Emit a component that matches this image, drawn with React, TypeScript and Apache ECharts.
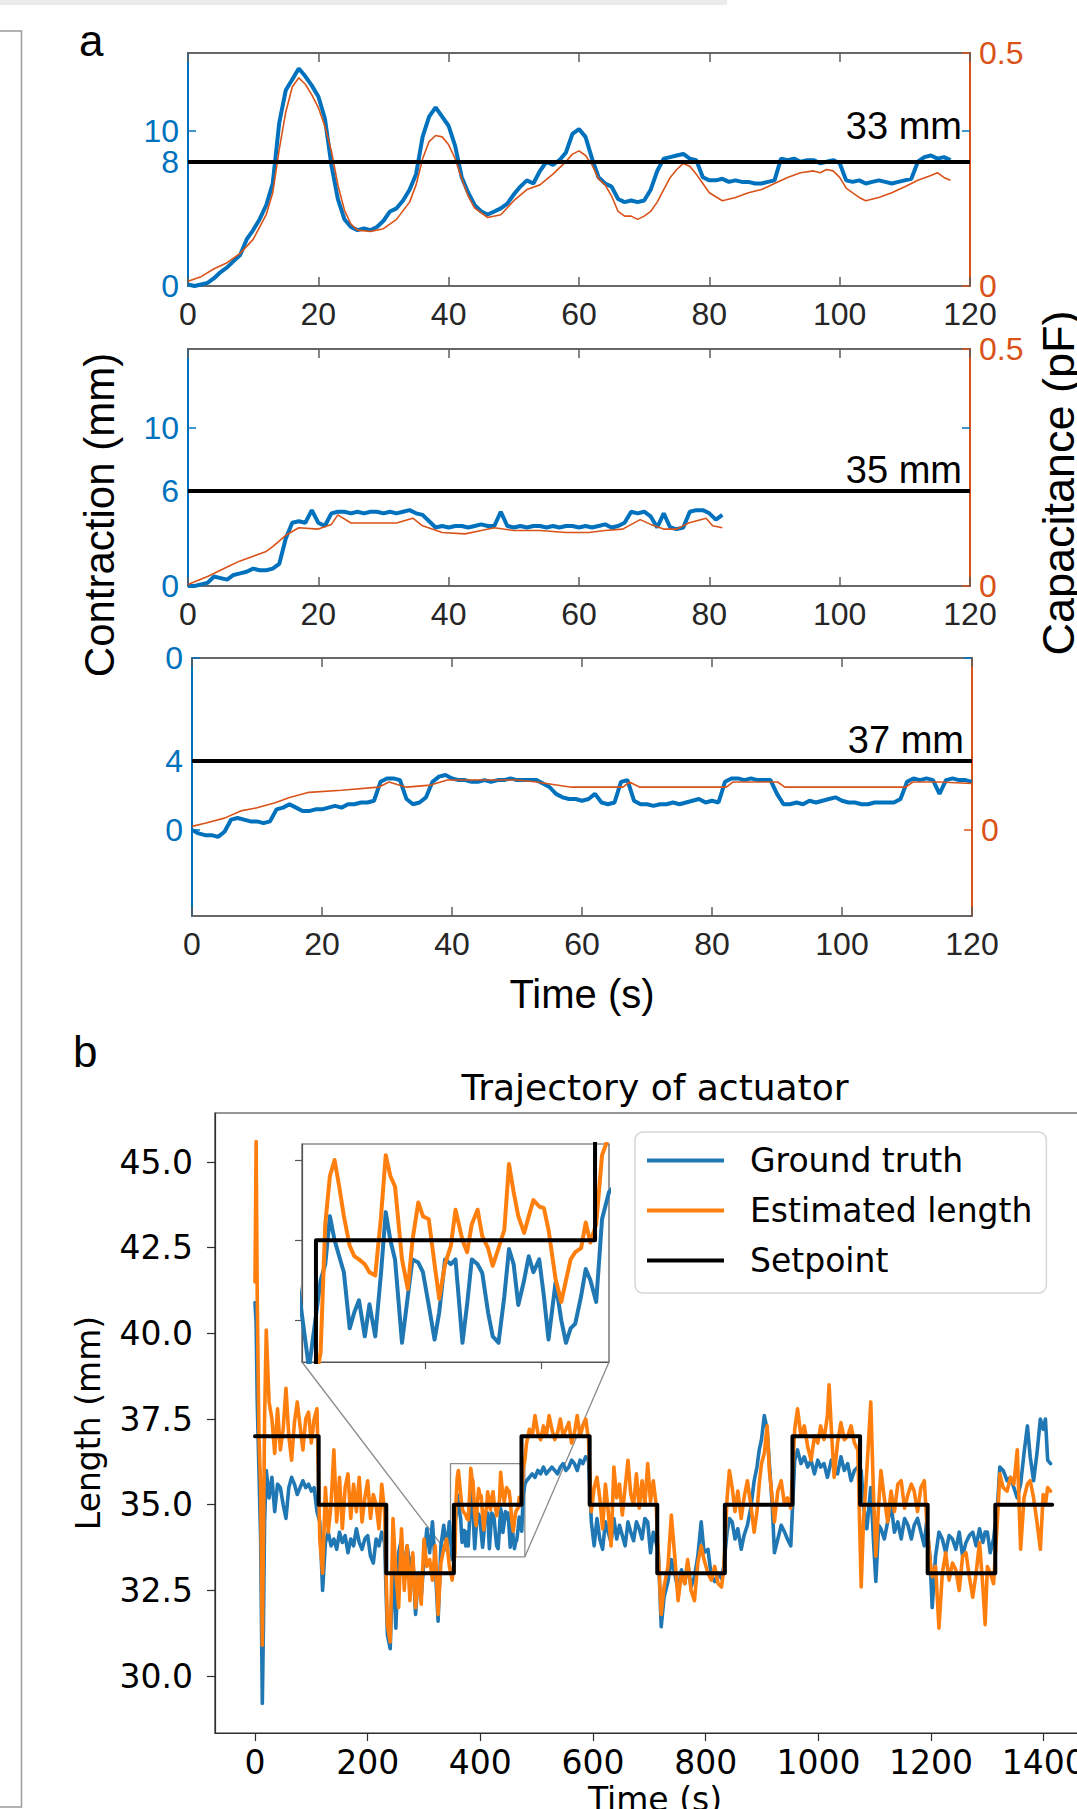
import React, { useEffect, useRef } from "react";
import * as echarts from "echarts";

// ---------------- Panel a : contraction (mm) sampled every 1 s from t = 0 ----------------
const a1Contraction = [
  0.1, 0.0, 0.1, 0.2, 0.5, 0.9, 1.2, 1.6, 2.0, 3.0,
  3.6, 4.3, 5.2, 6.6, 10.5, 12.6, 13.3, 14.0, 13.5, 12.9,
  12.2, 10.8, 7.8, 5.6, 4.3, 3.8, 3.6, 3.7, 3.6, 3.8,
  4.2, 4.8, 5.0, 5.5, 6.2, 7.2, 9.6, 10.9, 11.5, 10.9,
  10.3, 9.0, 7.0, 6.0, 5.2, 4.8, 4.6, 4.8, 5.0, 5.3,
  5.9, 6.4, 6.8, 6.6, 7.4, 8.0, 7.8, 8.1, 8.6, 9.8,
  10.1, 9.6, 8.2, 7.0, 6.6, 6.4, 5.6, 5.4, 5.5, 5.4,
  5.5, 6.2, 7.4, 8.2, 8.3, 8.4, 8.5, 8.2, 8.1, 7.0,
  6.8, 6.8, 6.9, 6.7, 6.8, 6.7, 6.7, 6.6, 6.6, 6.7,
  6.8, 8.2, 8.1, 8.2, 8.0, 8.1, 8.1, 7.9, 8.0, 8.1,
  7.9, 6.8, 6.7, 6.8, 6.6, 6.7, 6.8, 6.7, 6.6, 6.7,
  6.8, 6.9, 8.0, 8.3, 8.4, 8.2, 8.3, 8.1,
];
const a1CapTime = [
  0, 2, 4, 6, 8, 10, 12, 13, 14, 15, 16, 17, 18, 19, 20, 21, 22, 23, 24, 25, 26, 28, 30, 32, 34,
  35, 36, 37, 38, 39, 40, 41, 42, 43, 44, 46, 48, 50, 52, 54, 56, 58, 59, 60, 61, 62, 63, 64, 65,
  66, 67, 68, 69, 70, 71, 72, 73, 74, 75, 76, 77, 78, 79, 80, 82, 84, 86, 88, 90, 92, 94, 96, 97,
  98, 99, 100, 101, 102, 103, 104, 106, 108, 110, 112, 114, 115, 116, 117,
];
const a1Cap = [
  0.010, 0.020, 0.037, 0.050, 0.070, 0.100, 0.153, 0.200, 0.293, 0.373, 0.427, 0.447, 0.433, 0.410,
  0.383, 0.343, 0.290, 0.217, 0.163, 0.133, 0.120, 0.117, 0.123, 0.143, 0.180, 0.217, 0.273, 0.310,
  0.323, 0.320, 0.303, 0.273, 0.230, 0.193, 0.167, 0.147, 0.153, 0.183, 0.207, 0.217, 0.240, 0.267,
  0.283, 0.290, 0.280, 0.260, 0.230, 0.217, 0.193, 0.160, 0.150, 0.150, 0.143, 0.150, 0.160, 0.180,
  0.207, 0.233, 0.250, 0.263, 0.257, 0.240, 0.220, 0.200, 0.183, 0.190, 0.200, 0.207, 0.220, 0.233,
  0.243, 0.247, 0.243, 0.250, 0.247, 0.233, 0.210, 0.200, 0.190, 0.183, 0.190, 0.200, 0.213, 0.227,
  0.237, 0.243, 0.233, 0.227,
];

const a2Contraction = [
  0.0, 0.0, 0.1, 0.2, 0.6, 0.5, 0.4, 0.7, 0.8, 0.9,
  1.1, 1.0, 1.0, 1.1, 1.4, 3.0, 4.0, 4.1, 4.0, 4.8,
  4.0, 3.8, 4.6, 4.7, 4.7, 4.6, 4.7, 4.6, 4.7, 4.7,
  4.6, 4.7, 4.6, 4.7, 4.8, 4.6, 4.5, 4.1, 3.7, 3.8,
  3.7, 3.8, 3.8, 3.7, 3.8, 3.9, 3.8, 3.8, 4.7, 3.8,
  3.7, 3.8, 3.7, 3.8, 3.8, 3.7, 3.8, 3.7, 3.8, 3.8,
  3.7, 3.8, 3.7, 3.8, 3.9, 3.7, 3.8, 4.0, 4.7, 4.6,
  4.7, 4.4, 3.7, 4.6, 3.7, 3.6, 3.7, 4.7, 4.8, 4.8,
  4.6, 4.2, 4.5,
];
const a2CapTime = [
  0, 3, 6, 8, 10, 12, 13, 15, 17, 20, 22, 23, 25, 29, 32, 34.5, 36, 39, 42.5, 45, 47, 50, 54, 58,
  61.5, 64, 66.7, 69.4, 71, 73, 75, 76.8, 79.5, 80.5, 82,
];
const a2Cap = [
  0.003, 0.020, 0.040, 0.053, 0.063, 0.073, 0.083, 0.107, 0.123, 0.120, 0.130, 0.150, 0.133, 0.133,
  0.133, 0.143, 0.127, 0.113, 0.110, 0.117, 0.123, 0.117, 0.117, 0.113, 0.113, 0.117, 0.120, 0.140,
  0.130, 0.120, 0.120, 0.133, 0.143, 0.127, 0.123,
];

const a3Contraction = [
  0.0, -0.2, -0.3, -0.3, -0.4, -0.1, 0.6, 0.7, 0.6, 0.5,
  0.5, 0.4, 0.5, 1.2, 1.3, 1.5, 1.3, 1.1, 1.1, 1.2,
  1.2, 1.3, 1.4, 1.3, 1.5, 1.5, 1.6, 1.6, 1.7, 2.8,
  3.0, 3.0, 2.9, 1.8, 1.5, 1.6, 1.9, 2.8, 3.1, 3.2,
  3.0, 2.9, 2.9, 2.8, 2.8, 2.9, 2.8, 2.9, 2.9, 3.0,
  2.9, 2.9, 2.9, 2.9, 2.7, 2.5, 2.1, 1.9, 1.8, 1.8,
  1.7, 1.8, 2.1, 1.6, 1.5, 1.6, 2.8, 2.9, 1.7, 1.5,
  1.5, 1.4, 1.5, 1.5, 1.6, 1.5, 1.6, 1.7, 1.8, 1.6,
  1.7, 1.6, 2.8, 3.0, 3.0, 2.9, 3.0, 2.9, 2.9, 2.9,
  2.1, 1.5, 1.5, 1.6, 1.5, 1.7, 1.6, 1.7, 1.8, 1.9,
  1.7, 1.6, 1.6, 1.5, 1.5, 1.6, 1.6, 1.6, 1.6, 1.8,
  2.8, 3.0, 2.9, 3.0, 2.9, 2.1, 2.9, 3.0, 2.9, 2.9,
  2.8,
];
const a3CapTime = [
  0, 2, 5, 7.5, 10, 12.8, 15, 18, 23, 28.7, 30.3, 33, 36.7, 39.3, 45, 50, 53, 58.4, 66.3, 67.3,
  68.9, 75, 82.2, 83.2, 90.1, 91.2, 100, 109.8, 110.9, 115, 120,
];
const a3Cap = [
  0.007, 0.013, 0.023, 0.037, 0.043, 0.053, 0.063, 0.073, 0.077, 0.083, 0.093, 0.083, 0.087, 0.097,
  0.097, 0.097, 0.093, 0.083, 0.083, 0.093, 0.083, 0.083, 0.083, 0.093, 0.093, 0.083, 0.083, 0.083,
  0.093, 0.093, 0.090,
];

const aSetpoints = [8, 6, 4]; // contraction target (mm)
const aSetLabels = ["33 mm", "35 mm", "37 mm"];

// ---------------- Panel b : trajectory of actuator ----------------
const bTime = [
  0, 2, 4, 7, 10, 13, 15, 17, 20, 25, 30, 35, 40, 45, 50, 55, 60, 65, 70, 75, 80, 85, 90, 95, 100, 105, 110,
  115, 120, 125, 130, 135, 140, 145, 150, 155, 160, 165, 170, 175, 180, 185, 190, 195, 200, 205, 210, 215, 220, 225, 230,
  235, 240, 245, 250, 255, 260, 265, 270, 275, 280, 285, 290, 295, 300, 305, 310, 315, 320, 325, 330, 335, 340, 345, 350,
  355, 357, 359, 361, 363, 365, 367.5, 369.5, 371.5, 374, 376, 378.5, 381, 383, 385, 387, 390, 392.5, 394.5, 397,
  399, 401.5, 404, 406, 408.5, 411, 413, 416, 418, 420, 422.5, 424.5, 427, 429, 431.5, 434, 436, 438, 440, 442.5,
  444.5, 446.5, 449, 451, 453, 456, 458.5, 460.5, 462.5, 464.5, 467, 469, 471, 473.5, 476, 479,
  482, 487, 492, 497, 502, 507, 512, 517, 522, 527, 532, 537, 542, 547, 552, 557, 562, 567, 572, 577, 582, 587, 592,
  597, 602, 607, 612, 617, 622, 627, 632, 637, 642, 647, 652, 657, 662, 667, 672, 677, 682, 687, 692, 697, 702, 707, 712,
  716, 721, 726, 733, 739, 745, 751, 757, 763, 768, 774, 780, 786, 792, 797, 804, 810, 816, 822, 828, 832,
  838, 842, 847, 852, 857, 863, 868, 874, 880, 886, 891, 895, 899, 904, 909, 913, 918, 922, 928, 934, 940, 945, 951,
  958, 963, 969, 975, 981, 987, 993, 999, 1004, 1010, 1016, 1019, 1023, 1028, 1034, 1040, 1046, 1052, 1058, 1064, 1070,
  1076, 1080, 1086, 1093, 1098, 1102, 1107, 1111, 1117, 1123, 1129, 1135, 1141, 1147, 1153, 1159, 1165, 1170, 1176, 1182, 1188, 1192,
  1198, 1202, 1208, 1214, 1220, 1226, 1232, 1238, 1244, 1250, 1256, 1262, 1268, 1274, 1280, 1286, 1292, 1296, 1300, 1305, 1311,
  1318, 1322, 1328, 1335, 1341, 1347, 1353, 1359, 1365, 1371, 1376, 1382, 1388, 1394, 1399, 1403, 1407, 1412,
];
const bTruth = [
  40.9, 40.3, 38.0, 36.0, 34.0, 29.2, 31.5, 34.5, 36.0, 35.2, 35.8, 34.8, 35.6, 35.5, 35.0, 34.6, 35.5, 35.8, 35.6, 35.3, 35.5, 35.7, 35.5, 35.6, 35.4, 35.5, 34.8,
  34.5, 32.5, 33.9, 34.2, 33.8, 34.0, 33.7, 34.2, 33.9, 34.1, 33.6, 34.0, 33.8, 34.3, 33.9, 33.7, 34.0, 34.1, 33.5, 33.3, 34.0, 33.8, 34.2, 33.9,
  31.2, 30.8, 33.5, 31.4, 33.6, 34.0, 33.0, 33.8, 33.2, 33.5, 31.8, 33.0, 32.3, 33.4, 34.3, 33.6, 34.5, 33.2, 31.6, 33.8, 34.4, 33.7, 34.5, 33.4,
  34.5, 34.7, 35.3, 35.0, 34.8, 34.6, 33.9, 34.1, 34.25, 33.8, 34.2, 33.8, 34.6, 35.35, 35.0, 34.76, 33.72, 34.3, 34.76, 34.72,
  34.6, 34.19, 33.76, 34.1, 34.76, 34.7, 34.76, 33.72, 34.2, 34.76, 34.7, 34.59, 34.1, 33.8, 33.72, 34.3, 34.89, 34.7, 34.19, 34.5,
  34.8, 34.6, 34.76, 34.3, 33.76, 34.47, 34.0, 33.72, 33.9, 33.96, 34.3, 34.64, 34.5, 34.23, 35.26, 35.6,
  35.7, 35.8, 35.9, 35.8, 36.0, 35.9, 36.1, 35.9, 36.0, 36.1, 36.0, 35.9, 36.1, 36.2, 36.0, 36.1, 36.3, 36.2, 36.0, 36.3, 36.2, 36.4, 36.3,
  34.5, 33.8, 34.6, 34.0, 33.7, 34.5, 34.2, 33.9, 34.6, 34.0, 34.4, 34.1, 33.8, 34.5, 34.2, 33.95, 34.5, 34.3, 34.0, 34.6, 34.5, 33.6, 34.2, 33.9,
  33.6, 31.44, 32.3, 32.76, 33.4, 33.0, 32.5, 33.1, 32.7, 33.3, 32.6, 32.9, 33.5, 34.5, 33.6, 33.7, 32.9, 32.76, 33.0, 32.85, 33.2,
  34.2, 34.6, 34.5, 34.0, 34.3, 33.7, 34.1, 34.4, 34.9, 35.7, 36.1, 36.6, 36.9, 37.6, 37.2, 36.2, 35.0, 33.6, 34.0, 34.4, 34.2, 34.0, 33.8,
  36.3, 36.6, 36.2, 36.4, 36.1, 36.3, 35.9, 36.3, 36.1, 36.2, 35.8, 36.0, 36.3, 36.1, 35.9, 36.4, 36.0, 36.2, 35.7, 36.0, 36.1,
  36.0, 35.0, 34.3, 35.5, 33.9, 32.76, 34.4, 34.3, 34.0, 34.5, 35.0, 34.2, 34.5, 34.0, 34.6, 34.4, 34.0, 34.4, 34.6, 34.2, 33.8, 34.5,
  33.5, 32.0, 33.5, 34.2, 34.0, 33.6, 34.1, 34.0, 33.7, 34.2, 33.5, 33.9, 34.1, 34.2, 33.8, 34.3, 33.9, 34.2, 34.2, 33.6, 34.0,
  35.0, 36.1, 36.0, 35.7, 35.8, 35.5, 35.2, 35.6, 36.5, 37.3, 36.4, 35.7, 36.5, 37.5, 37.2, 37.5, 36.3, 36.2,
];
const bEstimated = [
  41.5, 45.6, 41.0, 37.0, 35.5, 30.9, 34.0, 37.5, 40.1, 38.0, 37.5, 36.5, 37.8, 36.6, 37.2, 38.4, 37.0, 36.3, 37.4, 38.0, 37.3, 36.6, 37.5, 37.7, 36.8, 37.5, 37.8,
  34.0, 33.0, 35.5, 34.2, 35.0, 36.6, 34.5, 35.8, 34.3, 35.5, 35.9, 34.6, 35.6, 34.8, 35.8, 34.5, 35.2, 35.7, 34.6, 35.3, 35.0, 34.3, 35.6, 34.8,
  31.5, 31.0, 34.6, 33.0, 32.0, 34.3, 32.5, 33.8, 32.2, 33.6, 32.0, 33.0, 32.1, 34.0, 33.2, 33.4, 32.8, 33.8, 31.8, 33.3, 33.7, 34.0, 33.2, 32.8,
  33.6, 35.2, 35.8, 36.0, 35.67, 35.3, 34.93, 34.8, 34.76, 34.7, 34.6, 34.56, 35.3, 36.06, 35.8, 35.67, 34.76, 34.39, 35.0, 35.47,
  35.3, 35.26, 34.7, 34.27, 34.7, 34.93, 35.38, 35.0, 34.85, 35.2, 35.38, 35.05, 34.9, 34.68, 34.9, 35.13, 35.95, 35.6, 35.3, 35.09,
  35.3, 35.5, 35.42, 35.4, 35.13, 34.52, 34.23, 34.5, 34.76, 34.85, 34.9, 35.22, 34.97, 35.2, 36.06, 36.3,
  36.8, 37.2, 37.0, 37.6, 37.1, 36.9, 37.3, 37.0, 37.6, 37.2, 36.9, 37.1, 37.5, 37.0, 37.2, 37.4, 36.8, 37.1, 37.6, 37.0, 37.3, 37.5, 36.9,
  34.8, 35.5, 35.8, 35.2, 34.3, 35.6, 34.8, 33.8, 36.1, 35.2, 35.6, 34.7, 35.5, 36.3, 35.3, 35.0, 35.9, 34.9, 35.7, 35.0, 36.2, 35.1, 35.7, 35.0,
  33.5, 31.8, 32.6, 33.2, 34.7, 33.5, 32.2, 33.0, 32.7, 33.4, 32.5, 32.2, 33.3, 33.8, 33.4, 33.0, 32.8, 33.2, 32.7, 32.6, 33.1,
  35.2, 36.0, 35.5, 34.8, 35.4, 34.6, 35.2, 35.7, 35.0, 34.2, 34.8, 35.6, 36.2, 36.5, 37.3, 36.0, 35.2, 34.5, 35.4, 35.7, 35.0, 35.2, 34.9,
  37.2, 37.8, 37.0, 37.3, 36.7, 36.3, 37.0, 36.8, 37.3, 36.9, 37.6, 38.5, 37.2, 35.8, 36.8, 37.4, 36.9, 37.0, 37.3, 36.8, 36.6,
  32.6, 34.5, 36.0, 38.0, 35.2, 33.5, 35.0, 36.0, 35.2, 34.5, 35.4, 34.8, 35.6, 35.7, 34.9, 35.3, 35.6, 35.4, 34.8, 35.5, 35.7, 34.6,
  33.4, 32.9, 33.2, 31.4, 33.0, 33.6, 32.8, 33.3, 33.1, 32.5, 33.5, 33.6, 32.9, 32.3, 33.0, 33.9, 32.6, 31.5, 33.2, 33.0, 32.7,
  34.6, 35.9, 35.5, 35.4, 35.8, 35.6, 36.6, 33.7, 35.2, 35.6, 35.7, 35.2, 34.5, 33.7, 35.3, 35.0, 35.5, 35.4,
];
const setpointTime = [0, 113, 233, 353, 473, 594, 714, 834, 954, 1074, 1194, 1314, 1415];
const setpointLength = [37, 35, 33, 35, 37, 35, 33, 35, 37, 35, 33, 35, 35];
const bXTicks = [0, 200, 400, 600, 800, 1000, 1200, 1400];
const bYTicks = [30, 32.5, 35, 37.5, 40, 42.5, 45];
const insetX = [347, 479];
const insetY = [33.48, 36.2];
const insetXTicks = [400, 450];
const insetYTicks = [34, 35, 36];

// ---------------- styling ----------------
const W = 1077;
const H = 1809;
const AF = "Liberation Sans";
const BF = "DejaVu Sans";
const BLUE = "#0072BD";
const ORANGE = "#D95319";
const SPINE = "#5e5e5e";
const TXT = "#262626";
const MPL_BLUE = "#1f77b4";
const MPL_ORANGE = "#ff7f0e";

const zip = (xs: number[], ys: number[]) => xs.map((x, i) => [x, ys[i]]);
const perSecond = (ys: number[]) => ys.map((y, i) => [i, y]);

function aXAxes(gridIndex: number, name?: string) {
  const common = {
    type: "value",
    gridIndex,
    min: 0,
    max: 120,
    interval: 20,
    splitLine: { show: false },
    axisLine: { show: true, onZero: false, lineStyle: { color: SPINE, width: 1.5 } },
    axisTick: { show: true, inside: true, length: 9, lineStyle: { color: SPINE, width: 1.5 } },
  };
  return [
    {
      ...common,
      position: "bottom",
      axisLabel: {
        show: true,
        margin: 12,
        fontSize: 32,
        fontFamily: AF,
        color: TXT,
        showMinLabel: true,
        showMaxLabel: true,
        hideOverlap: false,
      },
      ...(name
        ? {
            name,
            nameLocation: "middle",
            nameGap: 58,
            nameTextStyle: { fontSize: 40, fontFamily: AF, color: "#000" },
          }
        : {}),
    },
    { ...common, position: "top", axisLabel: { show: false } },
  ];
}

function aYAxes(
  gridIndex: number,
  lMin: number,
  lMax: number,
  lTicks: number[],
  lFmt: (v: number) => string,
  rMin: number,
  rMax: number,
  rTicks: number[]
) {
  return [
    {
      type: "value",
      gridIndex,
      position: "left",
      min: lMin,
      max: lMax,
      splitLine: { show: false },
      axisLine: { show: true, onZero: false, lineStyle: { color: BLUE, width: 2 } },
      axisTick: { show: true, inside: true, length: 8, customValues: lTicks, lineStyle: { color: BLUE, width: 1.5 } },
      axisLabel: {
        show: true,
        customValues: lTicks,
        formatter: lFmt,
        margin: 9,
        fontSize: 32,
        fontFamily: AF,
        color: BLUE,
        hideOverlap: false,
        showMinLabel: true,
        showMaxLabel: true,
      },
    },
    {
      type: "value",
      gridIndex,
      position: "right",
      min: rMin,
      max: rMax,
      splitLine: { show: false },
      axisLine: { show: true, onZero: false, lineStyle: { color: ORANGE, width: 2 } },
      axisTick: { show: true, inside: true, length: 8, customValues: rTicks, lineStyle: { color: ORANGE, width: 1.5 } },
      axisLabel: {
        show: true,
        customValues: rTicks,
        formatter: (v: number) => (v === 0 ? "0" : String(v)),
        margin: 9,
        fontSize: 32,
        fontFamily: AF,
        color: ORANGE,
        hideOverlap: false,
        showMinLabel: true,
        showMaxLabel: true,
      },
    },
  ];
}

// extra axis carrying only a few (blue) ticks / labels, sharing a grid with the main ones
function extraY(gridIndex: number, position: string, min: number, max: number, ticks: number[], showLabel: boolean) {
  return {
    type: "value",
    gridIndex,
    position,
    min,
    max,
    splitLine: { show: false },
    axisLine: { show: false, onZero: false },
    axisTick: { show: true, inside: true, length: 8, customValues: ticks, lineStyle: { color: BLUE, width: 1.5 } },
    axisLabel: showLabel
      ? { show: true, customValues: ticks, margin: 9, fontSize: 32, fontFamily: AF, color: BLUE, showMinLabel: true, showMaxLabel: true }
      : { show: false },
  };
}

function aSeries(
  idx: number,
  contraction: number[],
  capTime: number[],
  cap: number[],
  setpoint: number,
  label: string,
  labelDy: number
) {
  return [
    {
      name: "Contraction " + label,
      type: "line",
      xAxisIndex: idx * 2,
      yAxisIndex: idx * 2,
      data: perSecond(contraction),
      showSymbol: false,
      symbol: "none",
      lineStyle: { color: BLUE, width: 4 },
      z: 2,
      silent: true,
      markLine: {
        silent: true,
        symbol: "none",
        data: [{ yAxis: setpoint }],
        lineStyle: { color: "#000", width: 4, type: "solid" },
        label: {
          show: true,
          position: "insideEndTop",
          formatter: label,
          distance: [8, labelDy],
          fontSize: 38,
          fontFamily: AF,
          color: "#000",
        },
      },
    },
    {
      name: "Capacitance " + label,
      type: "line",
      xAxisIndex: idx * 2,
      yAxisIndex: idx * 2 + 1,
      data: zip(capTime, cap),
      showSymbol: false,
      symbol: "none",
      lineStyle: { color: ORANGE, width: 1.6 },
      z: 3,
      silent: true,
    },
  ];
}

function staticGraphic() {
  return [
    { id: "band", type: "rect", shape: { x: 0, y: 0, width: 727, height: 5 }, style: { fill: "#ebebeb" }, silent: true },
    {
      id: "frame",
      type: "polyline",
      shape: { points: [[0, 31], [21.5, 31], [21.5, 1807], [0, 1807]] },
      style: { stroke: "#9a9a9a", lineWidth: 1.5, fill: "none" },
      silent: true,
    },
    {
      id: "labA",
      type: "text",
      x: 79,
      y: 40,
      style: { text: "a", fontSize: 44, fontFamily: AF, fill: "#000", align: "left", verticalAlign: "middle" },
    },
    {
      id: "labB",
      type: "text",
      x: 73,
      y: 1051,
      style: { text: "b", fontSize: 44, fontFamily: AF, fill: "#000", align: "left", verticalAlign: "middle" },
    },
    {
      id: "contraction",
      type: "text",
      x: 99,
      y: 515,
      rotation: Math.PI / 2,
      style: { text: "Contraction (mm)", fontSize: 42, fontFamily: AF, fill: "#000", align: "center", verticalAlign: "middle" },
    },
    {
      id: "capacitance",
      type: "text",
      x: 1058,
      y: 483,
      rotation: Math.PI / 2,
      style: { text: "Capacitance (pF)", fontSize: 45, fontFamily: AF, fill: "#000", align: "center", verticalAlign: "middle" },
    },
  ];
}

function buildOption() {
  const gridBase = { show: true, backgroundColor: "transparent", containLabel: false, outerBoundsMode: "none" };
  const gridA = (left: number, top: number, width: number, height: number) => ({
    ...gridBase,
    left,
    top,
    width,
    height,
    borderColor: SPINE,
    borderWidth: 1.5,
  });

  const bLineStyle = (color: string, width: number) => ({ color, width, cap: "round", join: "round" });

  return {
    animation: false,
    backgroundColor: "#ffffff",
    textStyle: { fontFamily: AF },
    title: {
      text: "Trajectory of actuator",
      left: 655,
      top: 1069,
      textAlign: "center",
      padding: 0,
      textStyle: { fontFamily: BF, fontSize: 36, fontWeight: "normal", color: "#000" },
    },
    legend: {
      data: ["Ground truth", "Estimated length", "Setpoint"],
      left: 635,
      top: 1132,
      orient: "vertical",
      icon: "rect",
      itemWidth: 77,
      itemHeight: 4,
      itemGap: 17,
      padding: [12, 14, 16, 12],
      borderColor: "#d6d6d6",
      borderWidth: 1.5,
      borderRadius: 8,
      backgroundColor: "rgba(255,255,255,0.85)",
      textStyle: { fontFamily: BF, fontSize: 33, color: "#000", padding: [0, 0, 0, 21], lineHeight: 32 },
      selectedMode: false,
    },
    grid: [
      gridA(188, 53, 782, 233),
      gridA(188, 349, 782, 237),
      gridA(192, 658, 780, 258),
      { ...gridBase, left: 215, top: 1113, width: 880, height: 620, borderColor: "#2e2e2e", borderWidth: 1.2 },
      { ...gridBase, left: 302, top: 1144, width: 307, height: 218, borderColor: "#555555", borderWidth: 1.2, backgroundColor: "#ffffff" },
    ],
    xAxis: [
      ...aXAxes(0),
      ...aXAxes(1),
      ...aXAxes(2, "Time (s)"),
      {
        type: "value",
        gridIndex: 3,
        min: -71,
        max: 1491,
        splitLine: { show: false },
        axisLine: { show: true, onZero: false, lineStyle: { color: "#2e2e2e", width: 1.2 } },
        axisTick: { show: true, inside: false, length: 8, customValues: bXTicks, lineStyle: { color: "#2e2e2e", width: 1.2 } },
        axisLabel: {
          show: true,
          customValues: bXTicks,
          formatter: (v: number) => String(v),
          margin: 13,
          fontSize: 33,
          fontFamily: BF,
          color: "#000",
          hideOverlap: false,
        },
        name: "Time (s)",
        nameLocation: "middle",
        nameGap: 50,
        nameTextStyle: { fontSize: 33, fontFamily: BF, color: "#000" },
      },
      {
        type: "value",
        gridIndex: 4,
        min: insetX[0],
        max: insetX[1],
        splitLine: { show: false },
        axisLine: { show: true, onZero: false, lineStyle: { color: "#555555", width: 1.2 } },
        axisTick: { show: true, inside: false, length: 7, customValues: insetXTicks, lineStyle: { color: "#555555", width: 1.2 } },
        axisLabel: { show: false },
      },
    ],
    yAxis: [
      ...aYAxes(0, 0, 15, [0, 8], (v: number) => String(v), 0, 0.5, [0, 0.5]),
      ...aYAxes(1, 0, 15, [0, 6, 10], (v: number) => String(v), 0, 0.5, [0, 0.5]),
      ...aYAxes(2, -5, 10, [0, 4, 10], (v: number) => (v === 10 ? "0" : String(v)), -1 / 6, 1 / 3, [0]),
      {
        type: "value",
        gridIndex: 3,
        min: 28.34,
        max: 46.43,
        splitLine: { show: false },
        axisLine: { show: true, onZero: false, lineStyle: { color: "#2e2e2e", width: 1.2 } },
        axisTick: { show: true, inside: false, length: 8, customValues: bYTicks, lineStyle: { color: "#2e2e2e", width: 1.2 } },
        axisLabel: {
          show: true,
          customValues: bYTicks,
          formatter: (v: number) => v.toFixed(1),
          margin: 22,
          fontSize: 33,
          fontFamily: BF,
          color: "#000",
          hideOverlap: false,
        },
        name: "Length (mm)",
        nameLocation: "middle",
        nameRotate: 90,
        nameGap: 110,
        nameTextStyle: { fontSize: 33, fontFamily: BF, color: "#000" },
      },
      {
        type: "value",
        gridIndex: 4,
        min: insetY[0],
        max: insetY[1],
        splitLine: { show: false },
        axisLine: { show: true, onZero: false, lineStyle: { color: "#555555", width: 1.2 } },
        axisTick: { show: true, inside: false, length: 7, customValues: insetYTicks, lineStyle: { color: "#555555", width: 1.2 } },
        axisLabel: { show: false },
      },
      extraY(0, "left", 0, 15, [10], true),
      extraY(0, "right", 0, 15, [10], false),
      extraY(1, "right", 0, 15, [10], false),
      extraY(2, "right", -5, 10, [4, 10], false),
    ],
    series: [
      ...aSeries(0, a1Contraction, a1CapTime, a1Cap, aSetpoints[0], aSetLabels[0], 17),
      ...aSeries(1, a2Contraction, a2CapTime, a2Cap, aSetpoints[1], aSetLabels[1], 2),
      ...aSeries(2, a3Contraction, a3CapTime, a3Cap, aSetpoints[2], aSetLabels[2], 2),
      {
        name: "zoom region",
        type: "line",
        xAxisIndex: 6,
        yAxisIndex: 6,
        data: [
          [insetX[0], insetY[0]],
          [insetX[1], insetY[0]],
          [insetX[1], insetY[1]],
          [insetX[0], insetY[1]],
          [insetX[0], insetY[0]],
        ],
        symbol: "none",
        lineStyle: { color: "#8a8a8a", width: 1.3 },
        z: 1,
        silent: true,
      },
      {
        name: "Ground truth",
        type: "line",
        xAxisIndex: 6,
        yAxisIndex: 6,
        data: zip(bTime, bTruth),
        symbol: "none",
        lineStyle: bLineStyle(MPL_BLUE, 3.6),
        itemStyle: { color: MPL_BLUE },
        z: 2,
        silent: true,
      },
      {
        name: "Estimated length",
        type: "line",
        xAxisIndex: 6,
        yAxisIndex: 6,
        data: zip(bTime, bEstimated),
        symbol: "none",
        lineStyle: bLineStyle(MPL_ORANGE, 3.6),
        itemStyle: { color: MPL_ORANGE },
        z: 3,
        silent: true,
      },
      {
        name: "Setpoint",
        type: "line",
        xAxisIndex: 6,
        yAxisIndex: 6,
        data: zip(setpointTime, setpointLength),
        step: "end",
        symbol: "none",
        lineStyle: bLineStyle("#000000", 4),
        itemStyle: { color: "#000000" },
        z: 4,
        silent: true,
      },
      {
        name: "Ground truth",
        type: "line",
        xAxisIndex: 7,
        yAxisIndex: 7,
        data: zip(bTime, bTruth),
        symbol: "none",
        lineStyle: bLineStyle(MPL_BLUE, 4),
        itemStyle: { color: MPL_BLUE },
        z: 5,
        silent: true,
      },
      {
        name: "Estimated length",
        type: "line",
        xAxisIndex: 7,
        yAxisIndex: 7,
        data: zip(bTime, bEstimated),
        symbol: "none",
        lineStyle: bLineStyle(MPL_ORANGE, 4),
        itemStyle: { color: MPL_ORANGE },
        z: 6,
        silent: true,
      },
      {
        name: "Setpoint",
        type: "line",
        xAxisIndex: 7,
        yAxisIndex: 7,
        data: zip(setpointTime, setpointLength),
        step: "end",
        symbol: "none",
        lineStyle: bLineStyle("#000000", 4),
        itemStyle: { color: "#000000" },
        z: 7,
        silent: true,
      },
    ],
    graphic: staticGraphic(),
  };
}

export default function App() {
  const ref = useRef<HTMLDivElement>(null);
  useEffect(() => {
    document.body.style.margin = "0";
    const chart = echarts.init(ref.current as HTMLDivElement, undefined, { renderer: "svg", width: W, height: H });
    chart.setOption(buildOption() as any);

    // connector lines from the inset's lower corners to the zoomed region's lower corners
    const rectBL = chart.convertToPixel({ gridIndex: 3 } as any, [insetX[0], insetY[0]]) as number[];
    const rectBR = chart.convertToPixel({ gridIndex: 3 } as any, [insetX[1], insetY[0]]) as number[];
    const insBL = chart.convertToPixel({ gridIndex: 4 } as any, [insetX[0], insetY[0]]) as number[];
    const insBR = chart.convertToPixel({ gridIndex: 4 } as any, [insetX[1], insetY[0]]) as number[];
    const connectors: any[] = [];
    if (rectBL && insBL) {
      connectors.push({
        id: "conn1",
        type: "line",
        shape: { x1: insBL[0], y1: insBL[1], x2: rectBL[0], y2: rectBL[1] },
        style: { stroke: "#8a8a8a", lineWidth: 1.3 },
        silent: true,
        z: 1,
      });
    }
    if (rectBR && insBR) {
      connectors.push({
        id: "conn2",
        type: "line",
        shape: { x1: insBR[0], y1: insBR[1], x2: rectBR[0], y2: rectBR[1] },
        style: { stroke: "#8a8a8a", lineWidth: 1.3 },
        silent: true,
        z: 1,
      });
    }
    chart.setOption({ graphic: [...staticGraphic(), ...connectors] } as any);
    return () => chart.dispose();
  }, []);
  return <div ref={ref} style={{ width: W, height: H }} />;
}
